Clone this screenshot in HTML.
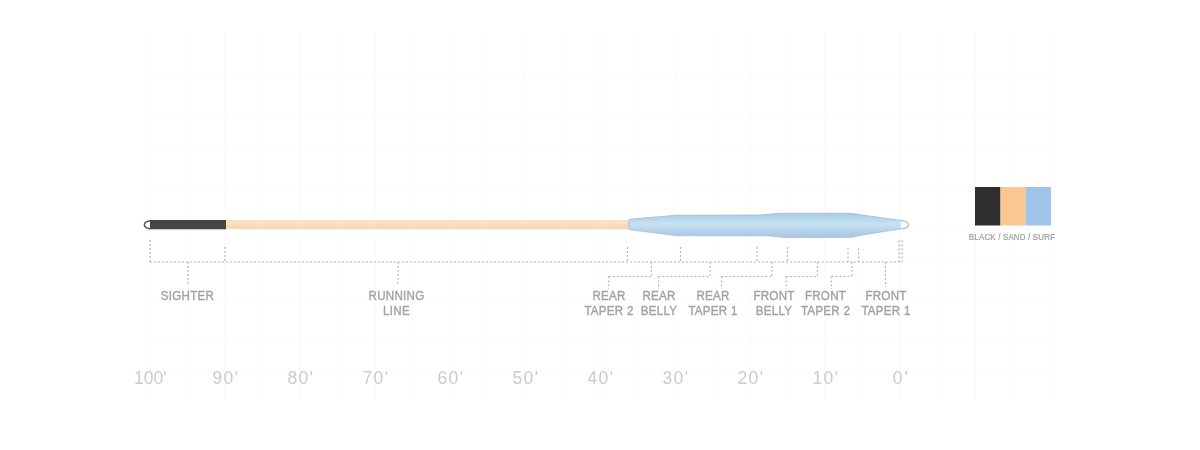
<!DOCTYPE html><html><head><meta charset="utf-8"><style>html,body{margin:0;padding:0;background:#fff;width:1200px;height:450px;overflow:hidden}svg{display:block;will-change:transform}text{font-family:"Liberation Sans",sans-serif}</style></head><body>
<svg width="1200" height="450" viewBox="0 0 1200 450">
<defs><linearGradient id="bl" x1="0" y1="0" x2="0" y2="1"><stop offset="0" stop-color="#abc9e5"/><stop offset="0.15" stop-color="#b1d2eb"/><stop offset="0.45" stop-color="#c9e2f0"/><stop offset="0.8" stop-color="#b0cfec"/><stop offset="1" stop-color="#aac7e6"/></linearGradient><linearGradient id="sd" x1="0" y1="0" x2="0" y2="1"><stop offset="0" stop-color="#f2dfc4"/><stop offset="0.3" stop-color="#fce3bb"/><stop offset="0.7" stop-color="#fad7b5"/><stop offset="1" stop-color="#f3d9c6"/></linearGradient></defs>
<line x1="150.0" y1="32" x2="150.0" y2="400" stroke="#f8f8f8" stroke-width="1"/>
<line x1="187.5" y1="32" x2="187.5" y2="400" stroke="#fbfbfb" stroke-width="1"/>
<line x1="225.0" y1="32" x2="225.0" y2="400" stroke="#f8f8f8" stroke-width="1"/>
<line x1="262.5" y1="32" x2="262.5" y2="400" stroke="#fbfbfb" stroke-width="1"/>
<line x1="300.0" y1="32" x2="300.0" y2="400" stroke="#f8f8f8" stroke-width="1"/>
<line x1="337.5" y1="32" x2="337.5" y2="400" stroke="#fbfbfb" stroke-width="1"/>
<line x1="375.0" y1="32" x2="375.0" y2="400" stroke="#f8f8f8" stroke-width="1"/>
<line x1="412.5" y1="32" x2="412.5" y2="400" stroke="#fbfbfb" stroke-width="1"/>
<line x1="450.0" y1="32" x2="450.0" y2="400" stroke="#f8f8f8" stroke-width="1"/>
<line x1="487.5" y1="32" x2="487.5" y2="400" stroke="#fbfbfb" stroke-width="1"/>
<line x1="525.0" y1="32" x2="525.0" y2="400" stroke="#f8f8f8" stroke-width="1"/>
<line x1="562.5" y1="32" x2="562.5" y2="400" stroke="#fbfbfb" stroke-width="1"/>
<line x1="600.0" y1="32" x2="600.0" y2="400" stroke="#f8f8f8" stroke-width="1"/>
<line x1="637.5" y1="32" x2="637.5" y2="400" stroke="#fbfbfb" stroke-width="1"/>
<line x1="675.0" y1="32" x2="675.0" y2="400" stroke="#f8f8f8" stroke-width="1"/>
<line x1="712.5" y1="32" x2="712.5" y2="400" stroke="#fbfbfb" stroke-width="1"/>
<line x1="750.0" y1="32" x2="750.0" y2="400" stroke="#f8f8f8" stroke-width="1"/>
<line x1="787.5" y1="32" x2="787.5" y2="400" stroke="#fbfbfb" stroke-width="1"/>
<line x1="825.0" y1="32" x2="825.0" y2="400" stroke="#f8f8f8" stroke-width="1"/>
<line x1="862.5" y1="32" x2="862.5" y2="400" stroke="#fbfbfb" stroke-width="1"/>
<line x1="900.0" y1="32" x2="900.0" y2="400" stroke="#f8f8f8" stroke-width="1"/>
<line x1="937.5" y1="32" x2="937.5" y2="400" stroke="#fbfbfb" stroke-width="1"/>
<line x1="975.0" y1="32" x2="975.0" y2="400" stroke="#f8f8f8" stroke-width="1"/>
<line x1="1012.5" y1="32" x2="1012.5" y2="400" stroke="#fbfbfb" stroke-width="1"/>
<line x1="1050.0" y1="32" x2="1050.0" y2="400" stroke="#f8f8f8" stroke-width="1"/>
<line x1="150" y1="75.0" x2="1050" y2="75.0" stroke="#fcfcfc" stroke-width="1"/>
<line x1="150" y1="112.5" x2="1050" y2="112.5" stroke="#fcfcfc" stroke-width="1"/>
<line x1="150" y1="150.0" x2="1050" y2="150.0" stroke="#fcfcfc" stroke-width="1"/>
<line x1="150" y1="187.5" x2="1050" y2="187.5" stroke="#fcfcfc" stroke-width="1"/>
<line x1="150" y1="225.0" x2="1050" y2="225.0" stroke="#fcfcfc" stroke-width="1"/>
<line x1="150" y1="262.5" x2="1050" y2="262.5" stroke="#fcfcfc" stroke-width="1"/>
<line x1="150" y1="300.0" x2="1050" y2="300.0" stroke="#fcfcfc" stroke-width="1"/>
<line x1="150" y1="337.5" x2="1050" y2="337.5" stroke="#fcfcfc" stroke-width="1"/>
<line x1="150" y1="375.0" x2="1050" y2="375.0" stroke="#fcfcfc" stroke-width="1"/>
<rect x="149.5" y="220" width="76.5" height="9.3" fill="#464646"/>
<path d="M150,220.7 C146.5,221.3 144.3,223 144.3,224.7 C144.3,226.4 146.5,228.1 150,228.7" fill="#fff" stroke="#555" stroke-width="1.4"/>
<rect x="226" y="220" width="403.5" height="9.2" fill="url(#sd)"/>
<polygon points="629,219.2 677,215.2 760,215 780,213.3 852,213.3 862,215 901,220.4 901,228.9 861,235.2 852,237.3 786,237.6 768,235.8 677,235.7 629,229.6" fill="url(#bl)" stroke="#a3bdd6" stroke-width="0.8" stroke-linejoin="round"/>
<path d="M900.5,220.4 C905,220.6 908.4,222 908.4,224.7 C908.4,227.4 905,228.8 900.5,229" fill="#f4f9fd" stroke="#b8b8b8" stroke-width="1.2"/>
<line x1="150" y1="262" x2="902" y2="262" stroke="#b0b0b0" stroke-width="1.2" stroke-dasharray="1.8 2.2" fill="none"/>
<line x1="150" y1="240" x2="150" y2="262" stroke="#b0b0b0" stroke-width="1.2" stroke-dasharray="1.8 2.2" fill="none"/>
<line x1="225" y1="247" x2="225" y2="262" stroke="#b0b0b0" stroke-width="1.2" stroke-dasharray="1.8 2.2" fill="none"/>
<line x1="627.5" y1="247" x2="627.5" y2="262" stroke="#b0b0b0" stroke-width="1.2" stroke-dasharray="1.8 2.2" fill="none"/>
<line x1="680.5" y1="247" x2="680.5" y2="262" stroke="#b0b0b0" stroke-width="1.2" stroke-dasharray="1.8 2.2" fill="none"/>
<line x1="757" y1="247" x2="757" y2="262" stroke="#b0b0b0" stroke-width="1.2" stroke-dasharray="1.8 2.2" fill="none"/>
<line x1="787.5" y1="247" x2="787.5" y2="262" stroke="#b0b0b0" stroke-width="1.2" stroke-dasharray="1.8 2.2" fill="none"/>
<line x1="848" y1="248.5" x2="848" y2="262" stroke="#b0b0b0" stroke-width="1.2" stroke-dasharray="1.8 2.2" fill="none"/>
<line x1="858.5" y1="248.5" x2="858.5" y2="262" stroke="#b0b0b0" stroke-width="1.2" stroke-dasharray="1.8 2.2" fill="none"/>
<line x1="899.3" y1="240.5" x2="899.3" y2="262" stroke="#b0b0b0" stroke-width="1.2" stroke-dasharray="1.8 2.2" fill="none"/>
<line x1="902.2" y1="240.5" x2="902.2" y2="262" stroke="#b0b0b0" stroke-width="1.2" stroke-dasharray="1.8 2.2" fill="none"/>
<line x1="188" y1="262" x2="188" y2="285" stroke="#b0b0b0" stroke-width="1.2" stroke-dasharray="1.8 2.2" fill="none"/>
<line x1="398" y1="262" x2="398" y2="285" stroke="#b0b0b0" stroke-width="1.2" stroke-dasharray="1.8 2.2" fill="none"/>
<line x1="651.5" y1="262" x2="651.5" y2="276.5" stroke="#b0b0b0" stroke-width="1.2" stroke-dasharray="1.8 2.2" fill="none"/>
<line x1="608.8" y1="276.5" x2="651.5" y2="276.5" stroke="#b0b0b0" stroke-width="1.2" stroke-dasharray="1.8 2.2" fill="none"/>
<line x1="608.8" y1="276.5" x2="608.8" y2="289" stroke="#b0b0b0" stroke-width="1.2" stroke-dasharray="1.8 2.2" fill="none"/>
<line x1="710" y1="262" x2="710" y2="276.5" stroke="#b0b0b0" stroke-width="1.2" stroke-dasharray="1.8 2.2" fill="none"/>
<line x1="658.5" y1="276.5" x2="710" y2="276.5" stroke="#b0b0b0" stroke-width="1.2" stroke-dasharray="1.8 2.2" fill="none"/>
<line x1="658.5" y1="276.5" x2="658.5" y2="289" stroke="#b0b0b0" stroke-width="1.2" stroke-dasharray="1.8 2.2" fill="none"/>
<line x1="772" y1="262" x2="772" y2="276.5" stroke="#b0b0b0" stroke-width="1.2" stroke-dasharray="1.8 2.2" fill="none"/>
<line x1="721.5" y1="276.5" x2="772" y2="276.5" stroke="#b0b0b0" stroke-width="1.2" stroke-dasharray="1.8 2.2" fill="none"/>
<line x1="721.5" y1="276.5" x2="721.5" y2="289" stroke="#b0b0b0" stroke-width="1.2" stroke-dasharray="1.8 2.2" fill="none"/>
<line x1="817.5" y1="262" x2="817.5" y2="276.5" stroke="#b0b0b0" stroke-width="1.2" stroke-dasharray="1.8 2.2" fill="none"/>
<line x1="786" y1="276.5" x2="817.5" y2="276.5" stroke="#b0b0b0" stroke-width="1.2" stroke-dasharray="1.8 2.2" fill="none"/>
<line x1="786" y1="276.5" x2="786" y2="289" stroke="#b0b0b0" stroke-width="1.2" stroke-dasharray="1.8 2.2" fill="none"/>
<line x1="852" y1="262" x2="852" y2="276.5" stroke="#b0b0b0" stroke-width="1.2" stroke-dasharray="1.8 2.2" fill="none"/>
<line x1="831.5" y1="276.5" x2="852" y2="276.5" stroke="#b0b0b0" stroke-width="1.2" stroke-dasharray="1.8 2.2" fill="none"/>
<line x1="831.5" y1="276.5" x2="831.5" y2="289" stroke="#b0b0b0" stroke-width="1.2" stroke-dasharray="1.8 2.2" fill="none"/>
<line x1="885.5" y1="262" x2="885.5" y2="287" stroke="#b0b0b0" stroke-width="1.2" stroke-dasharray="1.8 2.2" fill="none"/>
<text transform="translate(187.5,300) scale(1,1.1)" font-size="11.6" fill="#a2a2a2" stroke="#a2a2a2" stroke-width="0.35" letter-spacing="0.25" text-anchor="middle">SIGHTER</text>
<text transform="translate(396.5,300) scale(1,1.1)" font-size="11.6" fill="#a2a2a2" stroke="#a2a2a2" stroke-width="0.35" letter-spacing="0.25" text-anchor="middle">RUNNING</text>
<text transform="translate(396.5,315) scale(1,1.1)" font-size="11.6" fill="#a2a2a2" stroke="#a2a2a2" stroke-width="0.35" letter-spacing="0.25" text-anchor="middle">LINE</text>
<text transform="translate(609,300) scale(1,1.1)" font-size="11.6" fill="#a2a2a2" stroke="#a2a2a2" stroke-width="0.35" letter-spacing="0.25" text-anchor="middle">REAR</text>
<text transform="translate(609,315) scale(1,1.1)" font-size="11.6" fill="#a2a2a2" stroke="#a2a2a2" stroke-width="0.35" letter-spacing="0.25" text-anchor="middle">TAPER 2</text>
<text transform="translate(659,300) scale(1,1.1)" font-size="11.6" fill="#a2a2a2" stroke="#a2a2a2" stroke-width="0.35" letter-spacing="0.25" text-anchor="middle">REAR</text>
<text transform="translate(659,315) scale(1,1.1)" font-size="11.6" fill="#a2a2a2" stroke="#a2a2a2" stroke-width="0.35" letter-spacing="0.25" text-anchor="middle">BELLY</text>
<text transform="translate(713,300) scale(1,1.1)" font-size="11.6" fill="#a2a2a2" stroke="#a2a2a2" stroke-width="0.35" letter-spacing="0.25" text-anchor="middle">REAR</text>
<text transform="translate(713,315) scale(1,1.1)" font-size="11.6" fill="#a2a2a2" stroke="#a2a2a2" stroke-width="0.35" letter-spacing="0.25" text-anchor="middle">TAPER 1</text>
<text transform="translate(774,300) scale(1,1.1)" font-size="11.6" fill="#a2a2a2" stroke="#a2a2a2" stroke-width="0.35" letter-spacing="0.25" text-anchor="middle">FRONT</text>
<text transform="translate(774,315) scale(1,1.1)" font-size="11.6" fill="#a2a2a2" stroke="#a2a2a2" stroke-width="0.35" letter-spacing="0.25" text-anchor="middle">BELLY</text>
<text transform="translate(825.5,300) scale(1,1.1)" font-size="11.6" fill="#a2a2a2" stroke="#a2a2a2" stroke-width="0.35" letter-spacing="0.25" text-anchor="middle">FRONT</text>
<text transform="translate(825.5,315) scale(1,1.1)" font-size="11.6" fill="#a2a2a2" stroke="#a2a2a2" stroke-width="0.35" letter-spacing="0.25" text-anchor="middle">TAPER 2</text>
<text transform="translate(886,300) scale(1,1.1)" font-size="11.6" fill="#a2a2a2" stroke="#a2a2a2" stroke-width="0.35" letter-spacing="0.25" text-anchor="middle">FRONT</text>
<text transform="translate(886,315) scale(1,1.1)" font-size="11.6" fill="#a2a2a2" stroke="#a2a2a2" stroke-width="0.35" letter-spacing="0.25" text-anchor="middle">TAPER 1</text>
<text x="150.3" y="383.5" letter-spacing="0" font-size="17.5" fill="#cbcbcb" text-anchor="middle">100'</text>
<text x="225.95000000000002" y="383.5" letter-spacing="1.3" font-size="17.5" fill="#cbcbcb" text-anchor="middle">90'</text>
<text x="300.95" y="383.5" letter-spacing="1.3" font-size="17.5" fill="#cbcbcb" text-anchor="middle">80'</text>
<text x="375.95" y="383.5" letter-spacing="1.3" font-size="17.5" fill="#cbcbcb" text-anchor="middle">70'</text>
<text x="450.95" y="383.5" letter-spacing="1.3" font-size="17.5" fill="#cbcbcb" text-anchor="middle">60'</text>
<text x="525.9499999999999" y="383.5" letter-spacing="1.3" font-size="17.5" fill="#cbcbcb" text-anchor="middle">50'</text>
<text x="600.9499999999999" y="383.5" letter-spacing="1.3" font-size="17.5" fill="#cbcbcb" text-anchor="middle">40'</text>
<text x="675.9499999999999" y="383.5" letter-spacing="1.3" font-size="17.5" fill="#cbcbcb" text-anchor="middle">30'</text>
<text x="750.9499999999999" y="383.5" letter-spacing="1.3" font-size="17.5" fill="#cbcbcb" text-anchor="middle">20'</text>
<text x="825.9499999999999" y="383.5" letter-spacing="1.3" font-size="17.5" fill="#cbcbcb" text-anchor="middle">10'</text>
<text x="901.4" y="383.5" letter-spacing="2.2" font-size="17.5" fill="#cbcbcb" text-anchor="middle">0'</text>
<rect x="975" y="187" width="25.5" height="38.5" fill="#2f2f2f"/>
<rect x="1000.5" y="187" width="25.3" height="38.5" fill="#fbc690"/>
<rect x="1025.8" y="187" width="25.2" height="38.5" fill="#9fc4e7"/>
<text transform="translate(1012,240) scale(1,1.2)" font-size="8" fill="#a0a0a0" stroke="#a0a0a0" stroke-width="0.2" letter-spacing="0.15" text-anchor="middle">BLACK / SAND / SURF</text>
</svg></body></html>
